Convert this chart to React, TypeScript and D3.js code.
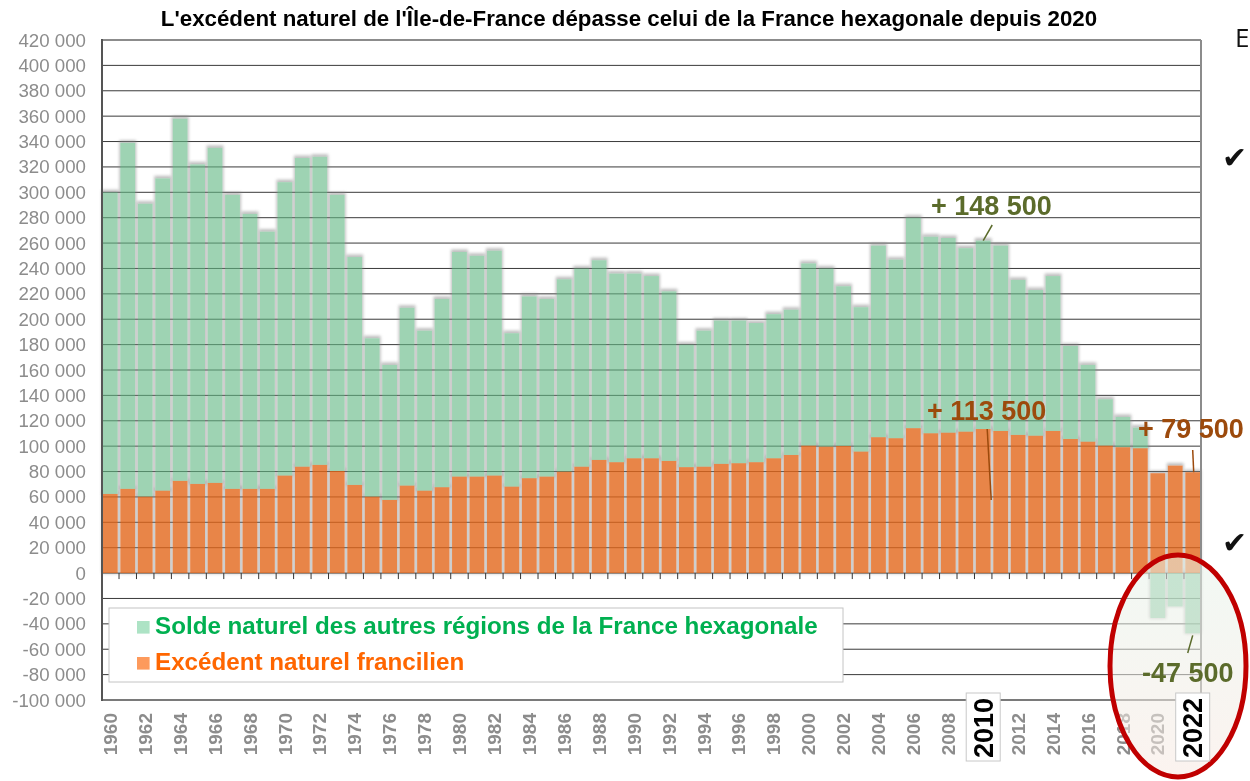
import React, { useEffect, useRef } from 'react';
import * as d3 from 'd3';

// années
const years = [
  1960, 1961, 1962, 1963, 1964, 1965, 1966, 1967, 1968, 1969,
  1970, 1971, 1972, 1973, 1974, 1975, 1976, 1977, 1978, 1979,
  1980, 1981, 1982, 1983, 1984, 1985, 1986, 1987, 1988, 1989,
  1990, 1991, 1992, 1993, 1994, 1995, 1996, 1997, 1998, 1999,
  2000, 2001, 2002, 2003, 2004, 2005, 2006, 2007, 2008, 2009,
  2010, 2011, 2012, 2013, 2014, 2015, 2016, 2017, 2018, 2019,
  2020, 2021, 2022,
];

// excédent naturel francilien
const idf = [
  62400, 66400, 60300, 65000, 72700, 70300, 71100, 66400, 66400, 66400,
  76900, 83900, 85300, 80500, 69500, 60300, 57700, 69000, 65000, 67700,
  76100, 76100, 76900, 68200, 74800, 76100, 80000, 83900, 89200, 87400,
  90500, 90500, 88400, 83500, 83900, 86100, 86600, 87400, 90500, 93100,
  100500, 99700, 100200, 95800, 107100, 106300, 114200, 110200, 110700, 111500,
  113500, 112000, 108900, 108300, 112000, 105700, 103600, 100500, 99200, 98400,
  78700, 84700, 79500,
];

// solde naturel des autres régions
const autres = [
  237600, 272600, 230700, 246000, 285300, 251700, 263900, 231600, 216600, 202600,
  231100, 243100, 242700, 217500, 179500, 124700, 106300, 140000, 126000, 148300,
  176900, 173900, 177100, 120800, 143200, 139900, 151500, 156100, 157300, 148600,
  145500, 143500, 133600, 96500, 107100, 112900, 112400, 109600, 113500, 114400,
  143500, 140300, 125800, 113700, 150900, 140700, 165800, 154800, 153300, 144500,
  148500, 146000, 122100, 114700, 122000, 73300, 60400, 36500, 23800, 16200,
  -35400, -26300, -47500,
];

const yTicks = [
  -100000, -80000, -60000, -40000, -20000, 0, 20000, 40000, 60000, 80000, 100000,
  120000, 140000, 160000, 180000, 200000, 220000, 240000, 260000, 280000, 300000,
  320000, 340000, 360000, 380000, 400000, 420000,
];

const highlightYears = [2010, 2022];

const title = "L'excédent naturel de l'Île-de-France dépasse celui de la France hexagonale depuis 2020";
const legendLabels = [
  'Solde naturel des autres régions de la France hexagonale',
  'Excédent naturel francilien',
];
const labelAutres2010 = '+ 148 500';
const labelIdf2010 = '+ 113 500';
const labelIdf2022 = '+ 79 500';
const labelAutres2022 = '-47 500';

function Chart() {
  const svgRef = useRef<SVGSVGElement>(null);

  useEffect(() => {
    const W = 1250, H = 781;
    const left = 102, right = 1201, top = 40, bottom = 700;
    const font = "'Liberation Sans', Arial, Helvetica, sans-serif";

    const svg = d3.select(svgRef.current);
    svg.selectAll('*').remove();
    svg.attr('width', W).attr('height', H);

    const x = d3.scaleBand<number>()
      .domain(years)
      .range([left, right])
      .paddingInner(0.15)
      .paddingOuter(0.05);
    const y = d3.scaleLinear().domain([-100000, 420000]).range([bottom, top]);
    const bw = x.bandwidth();

    const fmt = d3.formatLocale({
      decimal: ',', thousands: ' ', grouping: [3], currency: ['', ' €'], minus: '-',
    }).format(',d');

    // segments empilés
    const segs = years.flatMap((yr, i) => [
      { yr, v0: 0, v1: idf[i], kind: 'idf' },
      autres[i] >= 0
        ? { yr, v0: idf[i], v1: idf[i] + autres[i], kind: 'autres' }
        : { yr, v0: autres[i], v1: 0, kind: 'autres' },
    ]);

    const defs = svg.append('defs');
    defs.append('filter').attr('id', 'soft')
      .attr('x', '-50%').attr('y', '-50%').attr('width', '200%').attr('height', '200%')
      .append('feGaussianBlur').attr('stdDeviation', 1.8);
    const mask = defs.append('mask').attr('id', 'outside')
      .attr('maskUnits', 'userSpaceOnUse')
      .attr('x', 0).attr('y', 0).attr('width', W).attr('height', H);
    mask.append('rect').attr('width', W).attr('height', H).attr('fill', 'white');
    mask.selectAll('rect.b').data(segs).enter().append('rect').attr('class', 'b')
      .attr('x', d => x(d.yr)!)
      .attr('width', bw)
      .attr('y', d => y(d.v1))
      .attr('height', d => y(d.v0) - y(d.v1))
      .attr('fill', 'black');
    const grad = defs.append('linearGradient').attr('id', 'ovalFill')
      .attr('x1', 0).attr('y1', 0).attr('x2', 0).attr('y2', 1);
    grad.append('stop').attr('offset', '0%').attr('stop-color', '#e6f3ea');
    grad.append('stop').attr('offset', '100%').attr('stop-color', '#f8e9e2');

    // fond
    svg.append('rect').attr('width', W).attr('height', H).attr('fill', 'white');

    // quadrillage
    svg.append('g').selectAll('line').data(yTicks.filter(v => v > -100000 && v < 420000)).enter()
      .append('line')
      .attr('x1', left).attr('x2', right)
      .attr('y1', d => y(d)).attr('y2', d => y(d))
      .attr('stroke', '#3a3a3a').attr('stroke-width', 1);

    // halo des barres
    svg.append('g').attr('mask', 'url(#outside)')
      .selectAll('rect').data(segs).enter().append('rect')
      .attr('x', d => x(d.yr)! - 1)
      .attr('width', bw + 2)
      .attr('y', d => y(d.v1) - 2.5)
      .attr('height', d => y(d.v0) - y(d.v1) + 3)
      .attr('fill', '#8a8a8a')
      .attr('opacity', 0.55)
      .attr('filter', 'url(#soft)');

    // barres
    svg.append('g').selectAll('rect').data(segs).enter().append('rect')
      .attr('x', d => x(d.yr)!)
      .attr('width', bw)
      .attr('y', d => y(d.v1))
      .attr('height', d => y(d.v0) - y(d.v1))
      .attr('fill', d => (d.kind === 'idf' ? '#e2671a' : '#63b884'))
      .attr('fill-opacity', d => (d.kind === 'idf' ? 0.8 : 0.62));

    // cadre
    svg.append('line').attr('x1', left).attr('x2', right).attr('y1', top).attr('y2', top)
      .attr('stroke', '#8c8c8c').attr('stroke-width', 2);
    svg.append('line').attr('x1', left).attr('x2', right).attr('y1', bottom).attr('y2', bottom)
      .attr('stroke', '#7a7a7a').attr('stroke-width', 2);
    svg.append('line').attr('x1', right).attr('x2', right).attr('y1', top).attr('y2', bottom)
      .attr('stroke', '#8c8c8c').attr('stroke-width', 2);
    svg.append('line').attr('x1', left).attr('x2', left).attr('y1', top - 1).attr('y2', bottom + 1)
      .attr('stroke', '#555').attr('stroke-width', 2);

    // graduations de l'axe des années
    const gap = x.step() * x.paddingInner();
    svg.append('g').selectAll('line').data(years.slice(1)).enter().append('line')
      .attr('x1', d => x(d)! - gap / 2).attr('x2', d => x(d)! - gap / 2)
      .attr('y1', y(0)).attr('y2', y(0) + 6)
      .attr('stroke', '#333').attr('stroke-width', 1);

    // axe vertical
    svg.append('g').selectAll('text').data(yTicks).enter().append('text')
      .attr('x', 86).attr('y', d => y(d)).attr('dy', '0.35em')
      .attr('text-anchor', 'end')
      .attr('font-family', font).attr('font-size', 18.7).attr('fill', '#8c8c8c')
      .text(d => fmt(d));

    // libellés des années
    svg.append('g').selectAll('text')
      .data(years.filter(d => d % 2 === 0 && !highlightYears.includes(d))).enter()
      .append('text')
      .attr('transform', d => `translate(${x(d)! + bw / 2},713) rotate(-90)`)
      .attr('dy', '0.35em')
      .attr('text-anchor', 'end')
      .attr('font-family', font).attr('font-weight', 'bold').attr('font-size', 19)
      .attr('fill', '#8c8c8c')
      .text(d => d);

    // légende
    svg.append('rect').attr('x', 109).attr('y', 608).attr('width', 734).attr('height', 74)
      .attr('fill', 'white').attr('stroke', '#c4c4c4').attr('stroke-width', 1);
    const legendColors = ['#ade3c5', '#fd9a5c'];
    const legendText = ['#00b050', '#ff6600'];
    legendLabels.forEach((lab, i) => {
      const by = 634 + i * 36;
      svg.append('rect').attr('x', 137).attr('y', by - 13).attr('width', 12.6).attr('height', 12.6)
        .attr('fill', legendColors[i]);
      svg.append('text').attr('x', 155).attr('y', by)
        .attr('font-family', font).attr('font-weight', 'bold').attr('font-size', 24.2)
        .attr('fill', legendText[i])
        .text(lab);
    });

    // annotations
    const olive = '#5b6b2b';
    const brown = '#9c4a0c';
    const annFont = (s: d3.Selection<SVGTextElement, unknown, null, undefined>, c: string) =>
      s.attr('font-family', font).attr('font-weight', 'bold').attr('font-size', 27).attr('fill', c);

    const i2010 = years.indexOf(2010);
    const i2022 = years.indexOf(2022);
    const c2010 = x(2010)! + bw / 2;
    const c2022 = x(2022)! + bw / 2;

    annFont(svg.append('text').attr('x', 931).attr('y', 215).text(labelAutres2010), olive);
    svg.append('line')
      .attr('x1', c2010 + 9).attr('y1', 225)
      .attr('x2', c2010).attr('y2', y(idf[i2010] + autres[i2010]))
      .attr('stroke', olive).attr('stroke-width', 1.5);

    annFont(svg.append('text').attr('x', 927).attr('y', 420).text(labelIdf2010), brown);
    svg.append('line')
      .attr('x1', c2010 + 4).attr('y1', y(idf[i2010]))
      .attr('x2', c2010 + 8).attr('y2', 500)
      .attr('stroke', brown).attr('stroke-width', 1.5);

    annFont(svg.append('text').attr('x', 1138).attr('y', 438).text(labelIdf2022), brown);
    svg.append('line')
      .attr('x1', c2022).attr('y1', 450)
      .attr('x2', c2022 + 1).attr('y2', y(idf[i2022]))
      .attr('stroke', brown).attr('stroke-width', 1.5);

    // ovale rouge
    svg.append('ellipse')
      .attr('cx', 1178).attr('cy', 666).attr('rx', 68).attr('ry', 111)
      .attr('fill', 'url(#ovalFill)').attr('fill-opacity', 0.55)
      .attr('stroke', '#c00000').attr('stroke-width', 5);

    svg.append('line')
      .attr('x1', c2022).attr('y1', y(autres[i2022]) + 2)
      .attr('x2', c2022 - 5).attr('y2', 653)
      .attr('stroke', olive).attr('stroke-width', 1.5);
    annFont(svg.append('text').attr('x', 1142).attr('y', 682).text(labelAutres2022), olive);

    // années mises en évidence
    highlightYears.forEach(yr => {
      const cx = x(yr)! + bw / 2;
      svg.append('rect').attr('x', cx - 17).attr('y', 693).attr('width', 34).attr('height', 68)
        .attr('fill', 'white').attr('stroke', '#c8c8c8').attr('stroke-width', 1);
      svg.append('text')
        .attr('transform', `translate(${cx},698) rotate(-90)`)
        .attr('dy', '0.35em')
        .attr('text-anchor', 'end')
        .attr('font-family', font).attr('font-weight', 'bold').attr('font-size', 27)
        .attr('fill', '#000')
        .text(yr);
    });

    // titre
    svg.append('text').attr('x', 629).attr('y', 26).attr('text-anchor', 'middle')
      .attr('font-family', font).attr('font-weight', 'bold').attr('font-size', 22.3)
      .attr('fill', '#000')
      .text(title);

    // fragments de la diapositive à droite
    svg.append('text').attr('x', 1235).attr('y', 47)
      .attr('font-family', "'Open Sans', sans-serif").attr('font-size', 26).attr('fill', '#111')
      .text('E');
    [168, 553].forEach(by => {
      svg.append('text').attr('x', 1222).attr('y', by)
        .attr('font-family', "'DejaVu Sans', sans-serif").attr('font-size', 30).attr('fill', '#111')
        .text('✔');
    });
  }, []);

  return <svg ref={svgRef} style={{ position: 'absolute', left: 0, top: 0, display: 'block' }} />;
}

export default function App() {
  return (
    <div>
      <Chart />
    </div>
  );
}
